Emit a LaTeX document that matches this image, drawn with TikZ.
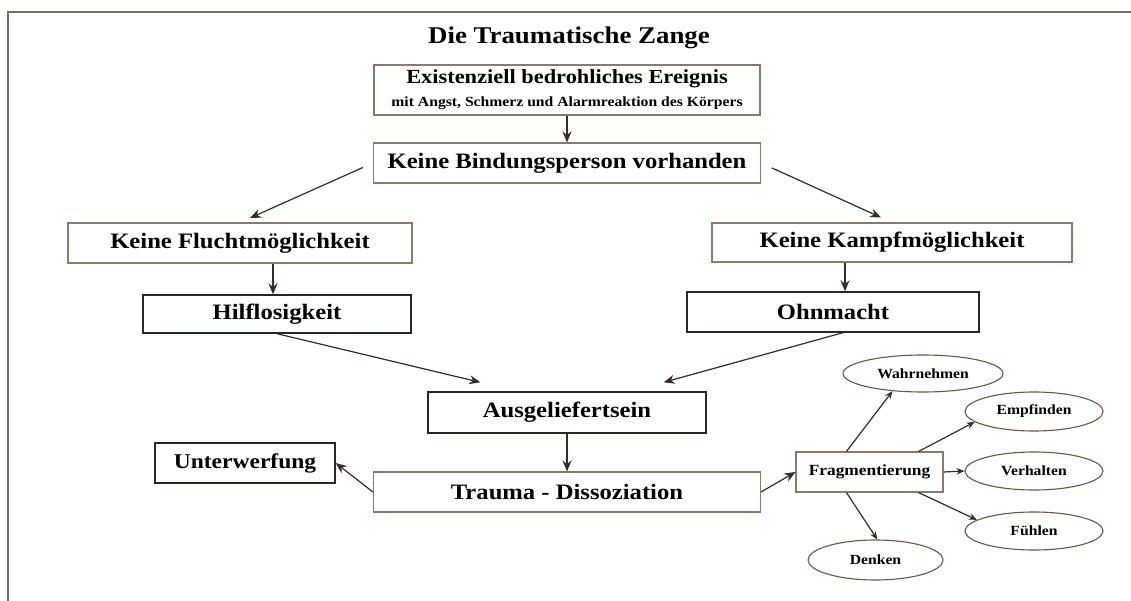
\documentclass[tikz,border=0pt]{standalone}
\usepackage{fontspec}
\setmainfont{Liberation Serif}[FakeStretch=1.12]
\usetikzlibrary{arrows.meta,calc,shapes.geometric}
\definecolor{framec}{RGB}{125,108,98}
\definecolor{boxlight}{RGB}{140,122,105}
\definecolor{boxdark}{RGB}{45,38,32}
\definecolor{ovalc}{RGB}{105,88,70}
\definecolor{linec}{RGB}{55,45,38}
\begin{document}
\begin{tikzpicture}[x=1pt,y=-1pt,
  box/.style={draw=boxlight, line width=1.1pt, minimum height=40pt, inner sep=0pt,
    font=\bfseries\fontsize{22}{24}\selectfont, text=black},
  darkbox/.style={box, draw=boxdark, line width=1.4pt},
  oval/.style={ellipse, draw=ovalc, line width=1.1pt, inner sep=0pt,
    font=\bfseries\fontsize{14}{16}\selectfont, text=black},
  arr/.style={draw=linec, line width=1.2pt, -{Stealth[length=11pt,width=9pt]}},
  sarr/.style={draw=linec, line width=1.2pt, -{Stealth[length=8pt,width=6.5pt]}},
  framel/.style={draw=framec, line width=1.8pt}
]
\useasboundingbox (0,0) rectangle (1131,601);
\fill[white] (0,0) rectangle (1131,601);
% frame
\coordinate (fr1) at (1131,12);
\coordinate (fr2) at (8,12);
\coordinate (fr3) at (8,601);
\draw[framel] (fr1) -- (fr2) -- (fr3);

% title
\node[font=\bfseries\fontsize{24}{26}\selectfont] (title) at (569,38) {Die Traumatische Zange};

% boxes
\node[box, minimum width=386pt, minimum height=50pt, align=center] (ereignis) at (567,90)
  {\fontsize{20}{20}\selectfont Existenziell bedrohliches Ereignis\\[-1pt]
   \fontsize{14}{16}\selectfont mit Angst, Schmerz und Alarmreaktion des Körpers};
\node[box, minimum width=387pt] (bindung) at (567,163) {Keine Bindungsperson vorhanden};
\node[box, minimum width=344pt] (flucht) at (240,243) {Keine Fluchtmöglichkeit};
\node[darkbox, minimum width=268pt, minimum height=38pt] (hilf) at (277,314) {Hilflosigkeit};
\node[box, minimum width=360pt, minimum height=39pt] (kampf) at (892,242.5) {Keine Kampfmöglichkeit};
\node[darkbox, minimum width=292pt] (ohn) at (833,312) {Ohnmacht};
\node[darkbox, minimum width=278pt, minimum height=41pt] (aus) at (567,412.5) {Ausgeliefertsein};
\node[box, minimum width=387pt] (trauma) at (567,492) {Trauma - Dissoziation};
\node[darkbox, minimum width=180pt, font=\bfseries\fontsize{21}{23}\selectfont] (unter) at (245,463) {Unterwerfung};
\node[box, minimum width=147pt, font=\bfseries\fontsize{15.5}{17}\selectfont] (frag) at (869.5,472) {Fragmentierung};

% ellipses
\node[oval, minimum width=160pt, minimum height=37pt] (wahr) at (923,373.5) {Wahrnehmen};
\node[oval, minimum width=138pt, minimum height=39pt] (empf) at (1034,411.5) {Empfinden};
\node[oval, minimum width=138pt, minimum height=38pt] (verh) at (1034,471) {Verhalten};
\node[oval, minimum width=138pt, minimum height=38pt] (fuehl) at (1034,531) {Fühlen};
\node[oval, minimum width=135pt, minimum height=40pt] (denk) at (875.5,560) {Denken};

% connectors
\draw[arr] (ereignis.south) -- (bindung.north);
\draw[arr, shorten <=11pt, shorten >=11pt] (bindung.west) -- (flucht.north);
\draw[arr, shorten <=12pt, shorten >=12pt] (bindung.east) -- (kampf.north);
\draw[arr] ($(flucht.south)+(33,0)$) -- ($(hilf.north)+(-4,0)$);
\draw[arr] ($(kampf.south)+(-47,0)$) -- ($(ohn.north)+(12,0)$);
\draw[arr] (hilf.south) -- ($(aus.north west)+(53,-9)$);
\draw[arr] ($(ohn.south)+(10,0)$) -- ($(aus.north east)+(-43,-9)$);
\draw[arr] (aus.south) -- (trauma.north);
\draw[arr] (trauma.west) -- (unter.east);
\draw[arr] (trauma.east) -- (frag.west);

\draw[sarr] ($(frag.north west)+(51,0)$) -- (wahr.210);
\draw[sarr] ($(frag.north east)+(-25,0)$) -- (empf.190);
\draw[sarr] (frag.east) -- (verh.west);
\draw[sarr] ($(frag.south east)+(-25,0)$) -- (fuehl.169);
\draw[sarr] ($(frag.south west)+(51,0)$) -- (denk.85);
\end{tikzpicture}
\end{document}
